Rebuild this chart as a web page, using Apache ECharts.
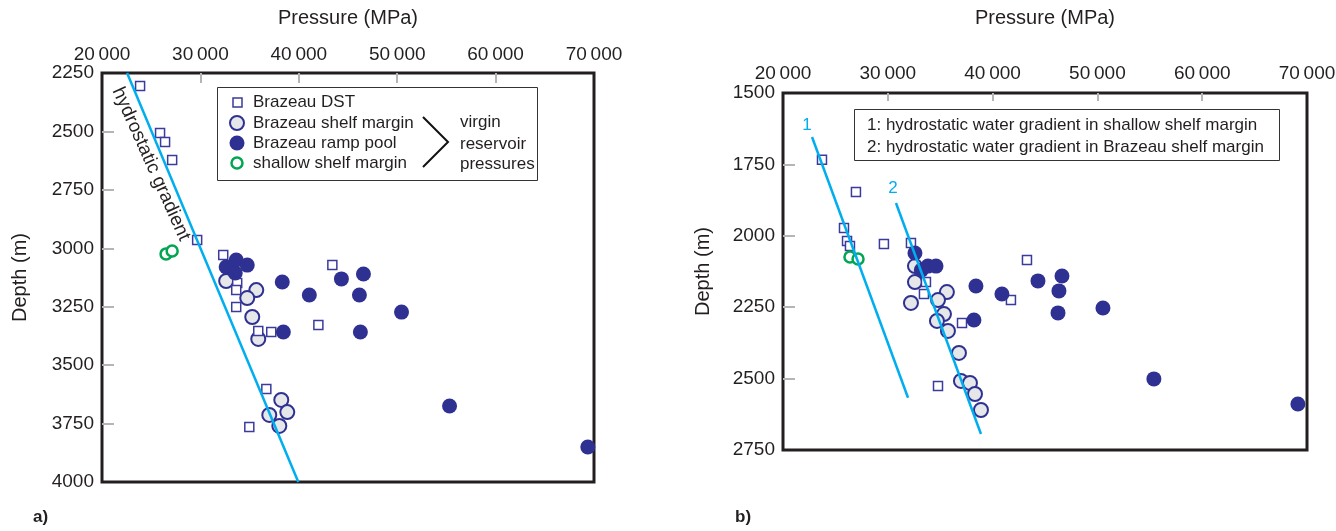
<!DOCTYPE html>
<html>
<head>
<meta charset="utf-8">
<title>Pressure vs depth</title>
<script src="https://cdn.jsdelivr.net/npm/echarts@6/dist/echarts.min.js"></script>
<style>
  html, body { margin: 0; padding: 0; background: #fff; }
  #chart { width: 1336px; height: 531px; }
</style>
</head>
<body>
<div id="chart"></div>
<script>
// axis ranges and inner tick marks
const pressureRange = [20000, 70000];
const leftDepthRange = [2250, 4000];
const rightDepthRange = [1500, 2750];
const pressureTicks = [30000, 40000, 50000, 60000];
const leftDepthTicks = [2500, 2750, 3000, 3250, 3500, 3750];
const rightDepthTicks = [1750, 2000, 2250, 2500];

// a) Brazeau pressures [pressure, depth]
const leftDST = [
  [23870, 2306], [25900, 2507], [26410, 2545], [27130, 2622], [29670, 2965],
  [32320, 3029], [43410, 3072], [33740, 3149], [33640, 3179], [33640, 3251],
  [35880, 3354], [37200, 3358], [41990, 3328], [36700, 3602], [34970, 3765]
];
const leftShelf = [
  [32620, 3140], [35680, 3179], [34760, 3213], [35270, 3294], [35880, 3388],
  [38220, 3649], [38830, 3701], [37000, 3713], [38020, 3760]
];
const leftRamp = [
  [32620, 3080], [33640, 3050], [33540, 3106], [34760, 3072], [38320, 3144],
  [41070, 3200], [44330, 3131], [46570, 3110], [46160, 3200], [50440, 3273],
  [38430, 3358], [46260, 3358], [55320, 3675], [69370, 3850]
];
const leftShallow = [[26510, 3024], [27130, 3012]];
const leftGradient = [[22550, 2250], [39950, 4000]];

// b) same data, shallower depth window
const rightDST = [
  [23720, 1734], [26960, 1847], [25820, 1973], [26110, 2018], [26390, 2036],
  [29630, 2029], [32210, 2025], [43280, 2085], [33640, 2162], [33450, 2204],
  [41750, 2225], [37080, 2305], [34790, 2526]
];
const rightShelf = [
  [32590, 2106], [32590, 2162], [35640, 2197], [34790, 2225], [32210, 2235],
  [35360, 2274], [34690, 2298], [35740, 2333], [36790, 2410], [36980, 2508],
  [37840, 2515], [38320, 2554], [38890, 2610]
];
const rightRamp = [
  [32590, 2060], [33830, 2106], [34600, 2106], [33200, 2120], [38410, 2176],
  [40890, 2204], [44330, 2158], [46620, 2141], [46330, 2193], [46240, 2270],
  [50530, 2253], [38220, 2295], [55390, 2501], [69130, 2589]
];
const rightShallow = [[26390, 2074], [27160, 2081]];
const rightGradient1 = [[22770, 1654], [31930, 2567]];
const rightGradient2 = [[30780, 1885], [38890, 2694]];

const navy = '#2e3192';
const cyan = '#00aeef';
const ink = '#231f20';
const font = "'Liberation Sans', Arial, sans-serif";

const chart = echarts.init(document.getElementById('chart'));

function pressureLabel(v) {
  return Math.round(v / 1000) + '\u2009000';
}

function xAxisOf(grid, gap, margin, tickLen) {
  return {
    gridIndex: grid, type: 'value', position: 'top',
    min: pressureRange[0], max: pressureRange[1], interval: 10000,
    name: 'Pressure (MPa)', nameLocation: 'middle', nameGap: gap,
    nameTextStyle: { fontSize: 20, color: ink },
    axisLine: { show: false },
    axisTick: { inside: true, length: tickLen, customValues: pressureTicks, lineStyle: { color: '#b5b5b5', width: 2 } },
    axisLabel: { margin: margin, fontSize: 19, color: ink, formatter: pressureLabel, showMinLabel: true, showMaxLabel: true },
    splitLine: { show: false }
  };
}

function yAxisOf(grid, range, ticks, gap) {
  return {
    gridIndex: grid, type: 'value', inverse: true,
    min: range[0], max: range[1], interval: 250,
    name: 'Depth (m)', nameLocation: 'middle', nameGap: gap,
    nameTextStyle: { fontSize: 20, color: ink },
    axisLine: { show: false },
    axisTick: { inside: true, length: 12, customValues: ticks, lineStyle: { color: '#b5b5b5', width: 2 } },
    axisLabel: { margin: 8, fontSize: 19, color: ink, formatter: v => String(v), showMinLabel: true, showMaxLabel: true },
    splitLine: { show: false }
  };
}

function pointSeries(idx, dst, shelf, ramp, shallow) {
  return [
    {
      type: 'scatter', xAxisIndex: idx, yAxisIndex: idx, z: 2, data: shelf,
      symbol: 'circle', symbolSize: 14,
      itemStyle: { color: '#e6e7e8', borderColor: navy, borderWidth: 2, opacity: 1 }
    },
    {
      type: 'scatter', xAxisIndex: idx, yAxisIndex: idx, z: 3, data: dst,
      symbol: 'rect', symbolSize: 9,
      itemStyle: { color: '#fff', borderColor: '#3b3b9c', borderWidth: 1.5, opacity: 1 }
    },
    {
      type: 'scatter', xAxisIndex: idx, yAxisIndex: idx, z: 4, data: ramp,
      symbol: 'circle', symbolSize: 15,
      itemStyle: { color: navy, opacity: 1 }
    },
    {
      type: 'scatter', xAxisIndex: idx, yAxisIndex: idx, z: 4, data: shallow,
      symbol: 'circle', symbolSize: 11,
      itemStyle: { color: '#fff', borderColor: '#00a651', borderWidth: 2.5, opacity: 1 }
    }
  ];
}

function gradientLine(idx, data) {
  return {
    type: 'line', xAxisIndex: idx, yAxisIndex: idx, z: 6, data: data,
    symbol: 'none', silent: true,
    lineStyle: { color: cyan, width: 2.5 }
  };
}

chart.setOption({
  animation: false,
  textStyle: { fontFamily: font },
  grid: [
    { left: 102, top: 73, width: 492, height: 409, show: true, borderColor: ink, borderWidth: 3, outerBoundsMode: 'none' },
    { left: 783, top: 93, width: 524, height: 357, show: true, borderColor: ink, borderWidth: 3, outerBoundsMode: 'none' }
  ],
  xAxis: [xAxisOf(0, 45, 9, 10), xAxisOf(1, 65, 10, 8)],
  yAxis: [yAxisOf(0, leftDepthRange, leftDepthTicks, 72), yAxisOf(1, rightDepthRange, rightDepthTicks, 70)],
  series: [
    ...pointSeries(0, leftDST, leftShelf, leftRamp, leftShallow),
    gradientLine(0, leftGradient),
    ...pointSeries(1, rightDST, rightShelf, rightRamp, rightShallow),
    gradientLine(1, rightGradient1),
    gradientLine(1, rightGradient2)
  ],
  graphic: [
    // a) legend
    { type: 'rect', shape: { x: 217.5, y: 87.5, width: 320, height: 93 }, style: { fill: '#fff', stroke: '#333', lineWidth: 1 }, z: 10 },
    { type: 'rect', shape: { x: 233, y: 98, width: 9, height: 9 }, style: { fill: '#fff', stroke: '#3b3b9c', lineWidth: 1.5 }, z: 11 },
    { type: 'circle', shape: { cx: 237, cy: 123, r: 7 }, style: { fill: '#e6e7e8', stroke: navy, lineWidth: 2 }, z: 11 },
    { type: 'circle', shape: { cx: 237, cy: 143, r: 7.5 }, style: { fill: navy }, z: 11 },
    { type: 'circle', shape: { cx: 237, cy: 163, r: 5.5 }, style: { fill: '#fff', stroke: '#00a651', lineWidth: 2.5 }, z: 11 },
    { type: 'text', x: 253, y: 102, z: 11, style: { text: 'Brazeau DST', font: '17px ' + font, fill: ink, verticalAlign: 'middle' } },
    { type: 'text', x: 253, y: 123, z: 11, style: { text: 'Brazeau shelf margin', font: '17px ' + font, fill: ink, verticalAlign: 'middle' } },
    { type: 'text', x: 253, y: 143, z: 11, style: { text: 'Brazeau ramp pool', font: '17px ' + font, fill: ink, verticalAlign: 'middle' } },
    { type: 'text', x: 253, y: 163, z: 11, style: { text: 'shallow shelf margin', font: '17px ' + font, fill: ink, verticalAlign: 'middle' } },
    { type: 'polyline', shape: { points: [[423, 117], [448, 142], [423, 167]] }, style: { stroke: '#111', lineWidth: 2, fill: null }, z: 11 },
    { type: 'text', x: 460, y: 122, z: 11, style: { text: 'virgin', font: '17px ' + font, fill: ink, verticalAlign: 'middle' } },
    { type: 'text', x: 460, y: 144, z: 11, style: { text: 'reservoir', font: '17px ' + font, fill: ink, verticalAlign: 'middle' } },
    { type: 'text', x: 460, y: 164, z: 11, style: { text: 'pressures', font: '17px ' + font, fill: ink, verticalAlign: 'middle' } },
    // gradient label along the line
    { type: 'text', x: 151, y: 164, rotation: -1.15, z: 11, style: { text: 'hydrostatic gradient', font: '19px ' + font, fill: ink, align: 'center', verticalAlign: 'middle' } },
    // b) legend
    { type: 'rect', shape: { x: 854.5, y: 109.5, width: 425, height: 51 }, style: { fill: '#fff', stroke: '#333', lineWidth: 1 }, z: 10 },
    { type: 'text', x: 867, y: 125, z: 11, style: { text: '1: hydrostatic water gradient in shallow shelf margin', font: '17px ' + font, fill: ink, verticalAlign: 'middle' } },
    { type: 'text', x: 867, y: 147, z: 11, style: { text: '2: hydrostatic water gradient in Brazeau shelf margin', font: '17px ' + font, fill: ink, verticalAlign: 'middle' } },
    { type: 'text', x: 807, y: 125, z: 11, style: { text: '1', font: '17px ' + font, fill: cyan, align: 'center', verticalAlign: 'middle' } },
    { type: 'text', x: 893, y: 188, z: 11, style: { text: '2', font: '17px ' + font, fill: cyan, align: 'center', verticalAlign: 'middle' } },
    // panel letters
    { type: 'text', x: 33, y: 517, style: { text: 'a)', font: 'bold 17px ' + font, fill: ink, verticalAlign: 'middle' } },
    { type: 'text', x: 735, y: 517, style: { text: 'b)', font: 'bold 17px ' + font, fill: ink, verticalAlign: 'middle' } }
  ]
});
</script>
</body>
</html>
